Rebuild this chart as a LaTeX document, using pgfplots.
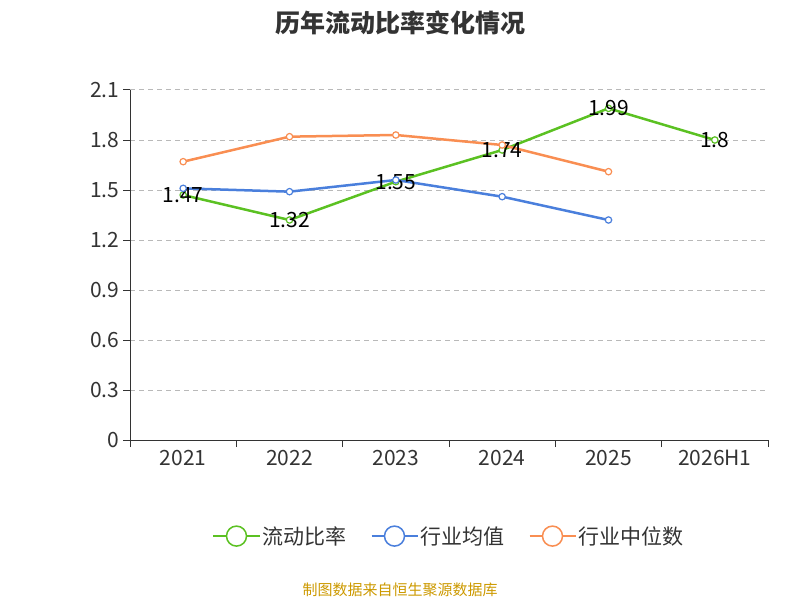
\documentclass[border=0pt]{standalone}
\usepackage{pgfplots}
\pgfplotsset{compat=1.18}
\usepackage{fontspec}
\setmainfont{Noto Sans CJK SC}
\definecolor{cg}{HTML}{5BC122}
\definecolor{cb}{HTML}{4A7FDC}
\definecolor{co}{HTML}{F98E52}
\definecolor{tx}{HTML}{333333}
\begin{document}
\begin{tikzpicture}[x=1pt,y=1pt]
\path[use as bounding box] (0,0) rectangle (800,600);
\node[font=\fontsize{25}{28}\selectfont\bfseries,text=tx] at (400,577) {历年流动比率变化情况};
\node[font=\fontsize{15}{17}\selectfont,text={rgb,255:red,204;green,153;blue,0}] at (400,10) {制图数据来自恒生聚源数据库};
\begin{axis}[at={(130pt,160pt)},anchor=south west,scale only axis,width=638pt,height=350pt,
 xmin=-0.5,xmax=5.5,ymin=0,ymax=2.1,
 xtick={-0.5,0.5,1.5,2.5,3.5,4.5,5.5},xticklabels={},
 extra x ticks={0,...,5},extra x tick labels={2021,2022,2023,2024,2025,2026H1},
 extra x tick style={tick style={draw=none},grid=none},
 x tick style={tx,line width=1pt}, xtick align=outside,
 ytick={0,0.3,0.6,0.9,1.2,1.5,1.8,2.1},
 yticklabels={0,0.3,0.6,0.9,1.2,1.5,1.8,2.1},
 y tick style={tx,line width=1pt}, major tick length=7pt, tick align=outside,
 ymajorgrids, xmajorgrids=false, grid style={dash pattern=on 5pt off 4pt,gray!55,line width=1pt},
 axis x line*=bottom, axis y line*=left, axis line style={tx,line width=1pt,-},
 ticklabel style={font=\fontsize{21}{23}\selectfont,text=tx},
 /pgf/number format/assume math mode=true,
 legend style={at={(0.5,-0.235)},anchor=north,draw=none,legend columns=3,font=\fontsize{21}{23}\selectfont,text=tx,/tikz/every even column/.append style={column sep=22pt}},
 legend image code/.code={\draw[#1,line width=2pt] (0,0)--(46pt,0); \draw[#1,fill=white,line width=1.5pt] (23pt,0) circle (10pt);},
 every axis plot/.append style={line width=2.5pt,mark=*,mark size=3.2pt,mark options={fill=white,line width=1.2pt}}]
\addplot[cg,nodes near coords,every node near coord/.append style={font=\fontsize{21}{23}\selectfont,text=black,anchor=center}] coordinates {(0,1.47)(1,1.32)(2,1.55)(3,1.74)(4,1.99)(5,1.8)};
\addplot[cb] coordinates {(0,1.51)(1,1.49)(2,1.56)(3,1.46)(4,1.32)};
\addplot[co] coordinates {(0,1.67)(1,1.82)(2,1.83)(3,1.77)(4,1.61)};
\legend{流动比率,行业均值,行业中位数}
\end{axis}
\end{tikzpicture}
\end{document}
